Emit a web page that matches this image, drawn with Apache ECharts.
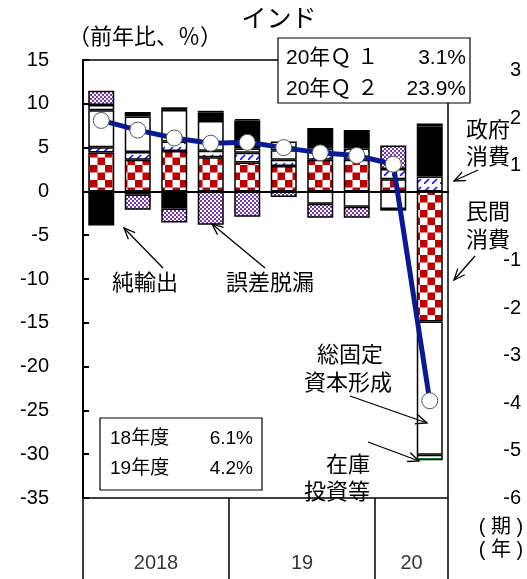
<!DOCTYPE html>
<html><head><meta charset="utf-8">
<script src="https://cdn.jsdelivr.net/npm/echarts@6/dist/echarts.min.js"></script>
<style>html,body{margin:0;padding:0;background:#fff}#c{width:527px;height:579px}</style>
</head><body><div id="c"></div>
<script>
// ---- data ----
const quarters = ['18Q1','18Q2','18Q3','18Q4','19Q1','19Q2','19Q3','19Q4','20Q1','20Q2'];
const years = ['2018','19','20'];
const quartersPerYear = [4, 4, 2];
const privateCons = [4.45, 3.6, 4.6, 3.9, 3.3, 2.9, 3.6, 3.6, 1.4, -14.85];
const govCons     = [0.6, 0.9, 1.1, 0.75, 1.1, 0.7, 1.3, 1.3, 1.15, 1.7];
const gfcf        = [4.2, 4.05, 3.6, 3.4, 0.5, 1.1, -1.4, -1.75, -2.0, -15.2];
const netExports  = [-3.9, 0.5, -1.95, 0.95, 3.2, 0, 2.35, 2.1, -0.2, 5.7];
const inventory   = [0.6, -0.35, 0.3, 0.2, 0.15, 1.0, 0, 0, 0, -0.65];
const errors      = [1.65, -1.75, -1.6, -3.8, -2.9, -0.65, -1.6, -1.25, 2.7, 0.35];
const gdp         = [8.1, 7.0, 6.1, 5.5, 5.6, 5.0, 4.4, 4.1, 3.1, -23.9];
const rightTicks  = [3, 2, 1, -1, -2, -3, -4, -5, -6];
const box1Labels  = [['20年Ｑ １', '3.1%'], ['20年Ｑ ２', '23.9%']];
const box2Labels  = [['18年度', '6.1%'], ['19年度', '4.2%']];

// ---- patterns ----
function pat(w, h, draw) {
  const c = document.createElement('canvas'); c.width = w; c.height = h;
  const g = c.getContext('2d'); g.fillStyle = '#fff'; g.fillRect(0, 0, w, h); draw(g);
  return { image: c, repeat: 'repeat' };
}
const redCheck = pat(15, 15, g => { g.fillStyle = '#c00000'; g.fillRect(0, 0, 7.5, 7.5); g.fillRect(7.5, 7.5, 7.5, 7.5); });
const blueHatch = pat(8, 8, g => { g.strokeStyle = '#1414ff'; g.lineWidth = 1.6; g.beginPath(); g.moveTo(0, 8); g.lineTo(5, 3); g.stroke(); });
const purpleDots = pat(4, 4, g => { g.fillStyle = '#7a35b0'; g.fillRect(0, 0, 2, 2); g.fillRect(2, 2, 2, 2); });
const greenLines = pat(4, 6, g => { g.fillStyle = '#00b050'; g.fillRect(0, 2, 4, 1.5); });

const FONT = "'Liberation Sans', 'Noto Sans CJK JP', sans-serif";
const nz = arr => arr.map(v => (v === 0 ? null : v));

// bottom year band: boundaries and label centres from the year groups
const bounds = [0]; quartersPerYear.forEach(n => bounds.push(bounds[bounds.length - 1] + n));
const yearPts = years.map((y, i) => [(bounds[i] + bounds[i + 1]) / 2, 0.19, y]);

const rightMin = -6, rightMax = -6 + 438 / 47.5;

function barSeries(name, data, color) {
  return {
    name, type: 'bar', stack: 'g', data: nz(data), barWidth: 26,
    xAxisIndex: 0, yAxisIndex: 0,
    itemStyle: { color, borderColor: '#000', borderWidth: 1.5 }
  };
}

// graphic helpers
function txt(x, y, text, size, align) {
  return { type: 'text', z: 100, style: { x, y, text, font: size + 'px ' + FONT, fill: '#000', align: align || 'center', verticalAlign: 'middle' } };
}
function arrow(x1, y1, x2, y2) {
  const a = Math.atan2(y2 - y1, x2 - x1), L = 12, s = 0.4;
  return [
    { type: 'line', z: 100, shape: { x1, y1, x2, y2 }, style: { stroke: '#000', lineWidth: 1.3 } },
    { type: 'polyline', z: 100, shape: { points: [[x2 - L * Math.cos(a - s), y2 - L * Math.sin(a - s)], [x2, y2], [x2 - L * Math.cos(a + s), y2 - L * Math.sin(a + s)]] }, style: { stroke: '#000', lineWidth: 1.3, fill: null } }
  ];
}

const graphics = [
  txt(279, 20, 'インド', 25),
  txt(145, 38, '（前年比、％）', 22),
  { type: 'rect', z: 90, shape: { x: 278, y: 38, width: 192, height: 65 }, style: { fill: '#fff', stroke: '#000', lineWidth: 1.2 } },
  txt(286, 58, box1Labels[0][0], 21, 'left'), txt(466, 58, box1Labels[0][1], 21, 'right'),
  txt(286, 89, box1Labels[1][0], 21, 'left'), txt(466, 89, box1Labels[1][1], 21, 'right'),
  { type: 'rect', z: 90, shape: { x: 100, y: 418, width: 162, height: 72 }, style: { fill: '#fff', stroke: '#000', lineWidth: 1.2 } },
  txt(110, 439, box2Labels[0][0], 19, 'left'), txt(253, 439, box2Labels[0][1], 19, 'right'),
  txt(110, 469, box2Labels[1][0], 19, 'left'), txt(253, 469, box2Labels[1][1], 19, 'right'),
  txt(145, 284, '純輸出', 22),
  txt(270, 284, '誤差脱漏', 22),
  txt(488, 131, '政府', 22), txt(488, 158, '消費', 22),
  txt(488, 213, '民間', 22), txt(488, 241, '消費', 22),
  txt(350, 356, '総固定', 22), txt(348, 384, '資本形成', 22),
  txt(370, 466, '在庫', 22, 'right'), txt(370, 493, '投資等', 22, 'right'),
  txt(501, 527, '( 期 )', 20), txt(501, 550, '( 年 )', 20),
  ...arrow(163, 268, 124, 228),
  ...arrow(265, 268, 212, 224),
  ...arrow(478, 170, 454, 181),
  ...arrow(475, 256, 454, 280),
  ...arrow(350, 396, 427, 423),
  ...arrow(368, 442, 419, 461)
];

const chart = echarts.init(document.getElementById('c'));
chart.setOption({
  animation: false,
  backgroundColor: '#fff',
  textStyle: { fontFamily: FONT, color: '#000' },
  grid: [
    { left: 83, right: 79, top: 60, bottom: 81, show: true, borderColor: '#000', borderWidth: 1.5, backgroundColor: 'transparent' },
    { left: 83, right: 79, top: 498, bottom: 0 }
  ],
  xAxis: [
    { gridIndex: 0, type: 'category', data: quarters, axisLine: { onZero: true, lineStyle: { color: '#000', width: 2 } }, axisTick: { show: false }, axisLabel: { show: false } },
    { gridIndex: 1, type: 'value', min: 0, max: bounds[bounds.length - 1], show: false }
  ],
  yAxis: [
    { gridIndex: 0, type: 'value', min: -35, max: 15, interval: 5, splitLine: { show: false },
      axisLine: { show: true, lineStyle: { color: '#000', width: 2 } },
      axisTick: { show: true, inside: true, length: 6, lineStyle: { color: '#000', width: 2 } },
      axisLabel: { fontSize: 20, color: '#000', margin: 34, fontFamily: FONT } },
    { gridIndex: 0, type: 'value', position: 'right', min: rightMin, max: rightMax, interval: 1, splitLine: { show: false },
      axisLine: { show: false }, axisTick: { show: false },
      axisLabel: { fontSize: 20, color: '#000', align: 'right', margin: 73, fontFamily: FONT,
        formatter: v => (rightTicks.includes(v) ? String(v) : '') } },
    { gridIndex: 1, type: 'value', min: 0, max: 1, show: false }
  ],
  series: [
    barSeries('民間消費', privateCons, redCheck),
    barSeries('政府消費', govCons, blueHatch),
    barSeries('総固定資本形成', gfcf, '#fff'),
    barSeries('純輸出', netExports, '#000'),
    barSeries('在庫投資等', inventory, greenLines),
    barSeries('誤差脱漏', errors, purpleDots),
    { name: 'GDP', type: 'line', data: gdp, xAxisIndex: 0, yAxisIndex: 0, z: 10,
      lineStyle: { color: '#0a1a93', width: 5 }, symbol: 'circle', symbolSize: 16,
      itemStyle: { color: '#fff', borderColor: '#555', borderWidth: 1 } },
    { name: 'years', type: 'scatter', xAxisIndex: 1, yAxisIndex: 2, data: yearPts, symbolSize: 1,
      itemStyle: { color: 'transparent' },
      label: { show: true, position: 'inside', formatter: p => p.data[2], fontSize: 20, color: '#000', fontFamily: FONT },
      markLine: { silent: true, symbol: 'none', label: { show: false },
        lineStyle: { color: '#000', width: 1.5, type: 'solid' },
        data: bounds.map(b => ({ xAxis: b })) } }
  ],
  graphic: graphics
});
</script>
</body></html>
